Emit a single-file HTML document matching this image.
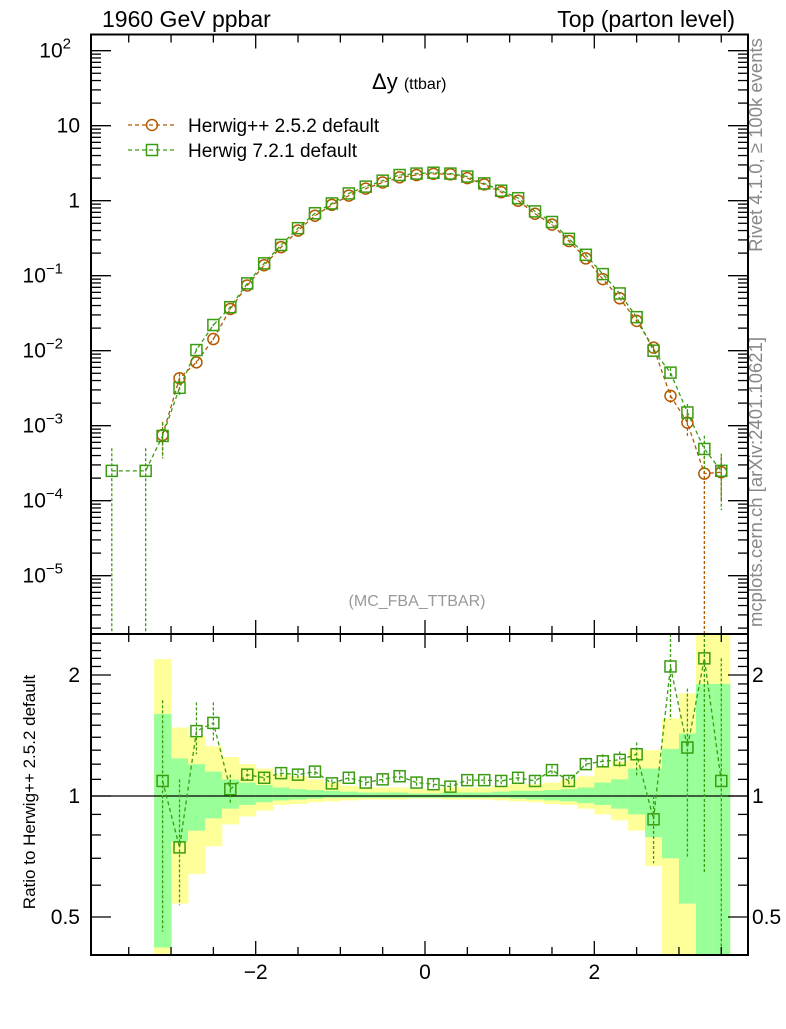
<!DOCTYPE html>
<html><head><meta charset="utf-8">
<style>
body{margin:0;background:#fff;}
svg text{font-family:"Liberation Sans",sans-serif;}
</style></head>
<body>
<svg id="c" width="786" height="1024" xmlns="http://www.w3.org/2000/svg">
<text x="102" y="27" font-size="23">1960 GeV ppbar</text>
<text x="735" y="27" font-size="23" text-anchor="end">Top (parton level)</text>
<text x="372" y="89" font-size="22">Δy <tspan font-size="16">(ttbar)</tspan></text>
<text x="417" y="606" font-size="16" fill="#999" text-anchor="middle">(MC_FBA_TTBAR)</text>
<text transform="translate(762,145) rotate(-90)" font-size="18.5" fill="#888" text-anchor="middle">Rivet 4.1.0, ≥ 100k events</text>
<text transform="translate(762,482) rotate(-90)" font-size="18.5" fill="#888" text-anchor="middle">mcplots.cern.ch [arXiv:2401.10621]</text>
<text transform="translate(35,792) rotate(-90)" font-size="17" text-anchor="middle">Ratio to Herwig++ 2.5.2 default</text>
<g id="bands"></g>
<g id="main"></g>
<g id="ratio"></g>
<g id="axes"></g>
<g>
<g>
<line x1="128" y1="125" x2="175" y2="125" stroke="#b35900" stroke-width="1.3" stroke-dasharray="4,3"/>
<circle cx="152" cy="125" r="5.5" fill="none" stroke="#b35900" stroke-width="1.5"/>
<text x="188" y="132" font-size="19">Herwig++ 2.5.2 default</text></g>
<g>
<line x1="128" y1="150" x2="175" y2="150" stroke="#3a9c10" stroke-width="1.3" stroke-dasharray="4,3"/>
<rect x="146.5" y="144.5" width="11" height="11" fill="none" stroke="#3a9c10" stroke-width="1.5"/>
<text x="188" y="157" font-size="19">Herwig 7.2.1 default</text></g>
</g>
</svg>
<script>
const xc = [-3.7,-3.5,-3.3,-3.1,-2.9,-2.7,-2.5,-2.3,-2.1,-1.9,-1.7,-1.5,-1.3,-1.1,-0.9,-0.7,-0.5,-0.3,-0.1,0.1,0.3,0.5,0.7,0.9,1.1,1.3,1.5,1.7,1.9,2.1,2.3,2.5,2.7,2.9,3.1,3.3,3.5];
const hpp = [null,null,null,7.5e-4,4.3e-3,7e-3,0.0143,0.036,0.074,0.138,0.24,0.40,0.63,0.88,1.17,1.45,1.75,2.05,2.2,2.28,2.25,2.0,1.65,1.3,1.0,0.67,0.48,0.29,0.17,0.09,0.05,0.025,0.011,2.5e-3,1.1e-3,2.3e-4,2.4e-4];
const hppErr = [0,0,0,0.5,0.15,0.05,0.03,0.02,0.01,0.01,0.01,0.01,0.01,0.01,0.01,0.01,0.01,0.01,0.01,0.01,0.01,0.01,0.01,0.01,0.01,0.01,0.01,0.01,0.02,0.02,0.03,0.04,0.06,0.2,0.35,1.0,0.6];
const h7 = [2.5e-4,null,2.5e-4,7.3e-4,3.2e-3,0.0102,0.022,0.038,0.079,0.146,0.257,0.43,0.68,0.92,1.25,1.54,1.85,2.2,2.3,2.36,2.3,2.1,1.7,1.36,1.08,0.72,0.52,0.31,0.19,0.105,0.058,0.028,0.01,5.1e-3,1.5e-3,4.9e-4,2.5e-4];
const h7Err = [1.0,0,1.0,0.5,0.2,0.06,0.03,0.02,0.01,0.01,0.01,0.01,0.01,0.01,0.01,0.01,0.01,0.01,0.01,0.01,0.01,0.01,0.01,0.01,0.01,0.01,0.01,0.01,0.02,0.02,0.03,0.04,0.06,0.15,0.3,0.5,0.7];
const ratioVal = [null,null,null,1.09,0.745,1.45,1.52,1.04,1.13,1.11,1.14,1.13,1.15,1.075,1.11,1.08,1.10,1.12,1.08,1.07,1.055,1.095,1.095,1.09,1.11,1.09,1.16,1.09,1.20,1.22,1.23,1.27,0.875,2.1,1.32,2.2,1.09];
const ratioUp = [null,null,null,1.73,1.10,1.71,1.71,1.13,1.17,1.14,1.17,1.16,1.18,1.10,1.14,1.11,1.13,1.15,1.11,1.10,1.08,1.12,1.12,1.12,1.14,1.12,1.19,1.12,1.24,1.27,1.29,1.36,1.0,3.0,1.85,3.0,2.2];
const ratioDn = [null,null,null,0.46,0.535,1.27,1.36,0.96,1.09,1.08,1.11,1.10,1.12,1.05,1.08,1.05,1.07,1.09,1.05,1.04,1.03,1.07,1.07,1.06,1.08,1.06,1.13,1.06,1.16,1.17,1.18,1.12,0.68,1.55,0.7,0.64,0.3];
const yelUp = [null,null,null,2.19,1.48,1.41,1.33,1.25,1.20,1.17,1.13,1.12,1.10,1.08,1.06,1.05,1.05,1.05,1.04,1.04,1.05,1.05,1.05,1.06,1.07,1.07,1.08,1.10,1.12,1.18,1.22,1.30,1.30,1.56,1.80,3.0,3.0];
const grnUp = [null,null,null,1.60,1.24,1.20,1.15,1.10,1.08,1.065,1.05,1.04,1.035,1.03,1.025,1.02,1.02,1.02,1.015,1.015,1.02,1.02,1.02,1.025,1.03,1.03,1.035,1.04,1.05,1.08,1.10,1.17,1.17,1.31,1.43,1.9,1.9];
const grnDn = [null,null,null,0.42,0.77,0.82,0.88,0.93,0.95,0.965,0.975,0.98,0.985,0.99,0.99,0.99,0.99,0.99,0.99,0.99,0.99,0.99,0.99,0.99,0.985,0.98,0.975,0.97,0.96,0.95,0.93,0.90,0.79,0.70,0.54,0.3,0.3];
const yelDn = [null,null,null,0.3,0.54,0.64,0.75,0.85,0.89,0.92,0.95,0.955,0.965,0.97,0.975,0.98,0.98,0.98,0.985,0.985,0.98,0.98,0.98,0.975,0.97,0.965,0.955,0.95,0.93,0.90,0.87,0.82,0.67,0.3,0.3,0.3,0.3];
const xTicks = [-2,0,2];
const mainTicks = [2,1,0,-1,-2,-3,-4,-5];
const ratioTicks = [0.5,1,2];

const NS="http://www.w3.org/2000/svg";
const L=91,R=748,T=34.5,B=634,RB=955;
const X=v=>425+v*84.65;
const Y=v=>200.7-75*Math.log10(v);
const RY=v=>796-402*Math.log10(v);
const clampM=y=>Math.max(T,Math.min(B,y));
const clampR=y=>Math.max(B,Math.min(RB,y));
function mk(tag,attrs,parent){const e=document.createElementNS(NS,tag);for(const k in attrs)e.setAttribute(k,attrs[k]);parent.appendChild(e);return e;}
const OR="#b35900",GR="#3a9c10";
const bw=84.65*0.2;
const gb=document.getElementById('bands'),gm=document.getElementById('main'),gr=document.getElementById('ratio'),ga=document.getElementById('axes');
xc.forEach((x,i)=>{ if(yelUp[i]==null) return;
  const x0=X(x)-bw/2;
  let y1=clampR(RY(yelUp[i])),y2=clampR(RY(yelDn[i]));
  const yb=mk('rect',{x:x0,y:y1,width:bw+0.5,height:y2-y1,fill:'#ffff99'},gb);
  
  
  y1=clampR(RY(grnUp[i]));y2=clampR(RY(grnDn[i]));
  const g=mk('rect',{x:x0,y:y1,width:bw+0.5,height:y2-y1,fill:'#99ff99'},gb);
  
  
});
mk('line',{x1:L,y1:796,x2:R,y2:796,stroke:'#000','stroke-width':1.3},gb);
function series(vals,errs,color,shape,name){
  let pts=[];
  xc.forEach((x,i)=>{ const v=vals[i]; if(v==null) return;
    const cx=X(x),cy=Y(v);
    pts.push(cx+','+cy);
    const up=clampM(Y(v*(1+errs[i]))), dn=errs[i]>=1?B:clampM(Y(v*(1-errs[i])));
    const eb=mk('line',{x1:cx,y1:up,x2:cx,y2:dn,stroke:color,'stroke-width':1.3,'stroke-dasharray':'3,2'},gm);
    
    
    let m;
    if(shape==='c') m=mk('circle',{cx:cx,cy:cy,r:5.5,fill:'none',stroke:color,'stroke-width':1.5},gm);
    else m=mk('rect',{x:cx-5.5,y:cy-5.5,width:11,height:11,fill:'none',stroke:color,'stroke-width':1.5},gm);
    
    
  });
  const pl=mk('polyline',{points:pts.join(' '),fill:'none',stroke:color,'stroke-width':1.3,'stroke-dasharray':'4,3'},gm);
  
  
}
series(hpp,hppErr,OR,'c','herwigpp');
series(h7,h7Err,GR,'s','herwig7');
let rp=[];
xc.forEach((x,i)=>{ const v=ratioVal[i]; if(v==null) return;
  const cx=X(x),cy=RY(v); rp.push(cx+','+cy);
  const e=mk('line',{x1:cx,y1:clampR(RY(ratioUp[i])),x2:cx,y2:clampR(RY(ratioDn[i])),stroke:GR,'stroke-width':1.3,'stroke-dasharray':'3,2'},gr);
  
  
  const m=mk('rect',{x:cx-5.5,y:cy-5.5,width:11,height:11,fill:'none',stroke:GR,'stroke-width':1.5},gr);
  
  
});
const rl=mk('polyline',{points:rp.join(' '),fill:'none',stroke:GR,'stroke-width':1.3,'stroke-dasharray':'4,3'},gr);


const f1=mk('rect',{x:L,y:T,width:R-L,height:B-T,fill:'none',stroke:'#000','stroke-width':2},ga);


const f2=mk('rect',{x:L,y:B,width:R-L,height:RB-B,fill:'none',stroke:'#000','stroke-width':2},ga);


for(let v=-3.5;v<=3.8;v+=0.5){ const x=X(v), maj=Math.abs(v-Math.round(v/2)*2)<1e-6 && Number.isInteger(v);
  const len=maj?14:8;
  [T,B].forEach(y=>mk('line',{x1:x,y1:y,x2:x,y2:y+len,stroke:'#000','stroke-width':1.3},ga));
  [B,RB].forEach(y=>mk('line',{x1:x,y1:y,x2:x,y2:y-len,stroke:'#000','stroke-width':1.3},ga));
}
xTicks.forEach(v=>{const t=mk('text',{x:X(v),y:979,'font-size':21,'text-anchor':'middle'},ga);t.textContent=(v<0?'−':'')+Math.abs(v);
  
  });
for(let d=-6;d<=2;d++){ for(let k=1;k<10;k++){ const y=Y(k*Math.pow(10,d)); if(y<T||y>B) continue;
  const len=k===1?20:10;
  mk('line',{x1:L,y1:y,x2:L+len,y2:y,stroke:'#000','stroke-width':1.3},ga);
  mk('line',{x1:R,y1:y,x2:R-len,y2:y,stroke:'#000','stroke-width':1.3},ga);
}}
mainTicks.forEach(d=>{ const y=Y(Math.pow(10,d))+7; const t=mk('text',{x:80,y:y,'font-size':21,'text-anchor':'end'},ga);
  
  
  if(d===1) t.textContent='10'; else if(d===0) t.textContent='1';
  else { t.textContent='10'; const s=document.createElementNS(NS,'tspan'); s.setAttribute('dy','-9'); s.setAttribute('font-size','15'); s.textContent=(d<0?'−':'')+Math.abs(d); t.appendChild(s); t.setAttribute('x', 80-(d<0?17:9)); }
});
for(let k=0.4;k<=2.5;k+=0.1){ const y=RY(k); if(y<B||y>RB) continue;
  const maj=[0.5,1,2].some(m=>Math.abs(m-k)<1e-6); const len=maj?20:10;
  mk('line',{x1:L,y1:y,x2:L+len,y2:y,stroke:'#000','stroke-width':1.3},ga);
  mk('line',{x1:R,y1:y,x2:R-len,y2:y,stroke:'#000','stroke-width':1.3},ga);
}
ratioTicks.forEach(v=>{ const y=RY(v)+7;
  const t=mk('text',{x:80,y:y,'font-size':21,'text-anchor':'end'},ga); t.textContent=String(v);
  
  
  const t2=mk('text',{x:752,y:y,'font-size':21},ga); t2.textContent=String(v);
  
  
});
</script>
</body></html>
